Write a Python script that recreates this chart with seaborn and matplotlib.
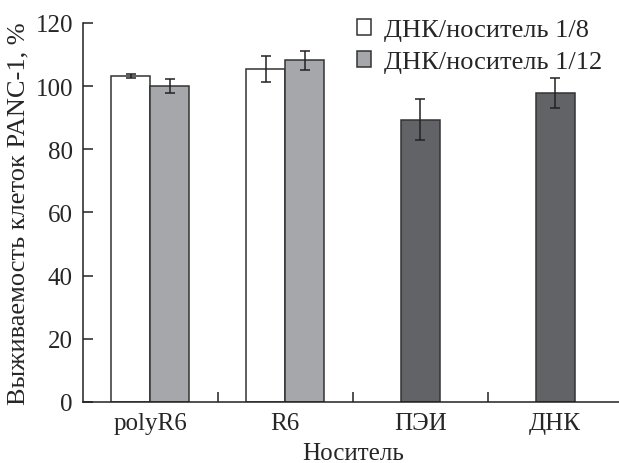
import numpy as np
import pandas as pd
import matplotlib.pyplot as plt
import seaborn as sns

# data
carriers = ['polyR6', 'R6', 'ПЭИ', 'ДНК']
ratios = ['ДНК/носитель 1/8', 'ДНК/носитель 1/12']
paired_carriers = ['polyR6', 'polyR6', 'R6', 'R6']
paired_ratios = ['ДНК/носитель 1/8', 'ДНК/носитель 1/12', 'ДНК/носитель 1/8', 'ДНК/носитель 1/12']
paired_values = [103.2, 100.0, 105.5, 108.2]
paired_err = [0.7, 2.2, 4.1, 3.0]
single_carriers = ['ПЭИ', 'ДНК']
single_values = [89.4, 97.8]
single_err = [6.5, 4.7]

sns.set_style('ticks')
plt.rcParams['font.family'] = ['Liberation Serif', 'DejaVu Serif']
fs = 18

paired = pd.DataFrame({'carrier': paired_carriers, 'ratio': paired_ratios,
                       'value': paired_values, 'err': paired_err})
single = pd.DataFrame({'carrier': single_carriers, 'value': single_values,
                       'err': single_err})

fig = plt.figure(figsize=(6.19, 4.64), dpi=100)
ax = fig.add_axes([0.1336, 0.1315, 0.8724, 0.8168])

edge = '#333333'
sns.barplot(data=paired, x='carrier', y='value', hue='ratio', order=carriers,
            hue_order=ratios, palette=['white', '#a6a7ab'], saturation=1,
            width=0.576, errorbar=None, edgecolor=edge, linewidth=1.1, ax=ax)
sns.barplot(data=single, x='carrier', y='value', order=carriers,
            color='#626367', saturation=1, width=0.288, errorbar=None,
            edgecolor=edge, linewidth=1.1, ax=ax)

# error bars at the bar centres (patch order: hue 1, hue 2, then single bars)
bars = [p for p in ax.patches if p.get_height() > 0]
xs = [p.get_x() + p.get_width() / 2 for p in bars]
ys = [p.get_height() for p in bars]
errs = (list(paired[paired.ratio == ratios[0]].err)
        + list(paired[paired.ratio == ratios[1]].err) + single_err)
ax.errorbar(xs, ys, yerr=errs, fmt='none', ecolor='#222222', elinewidth=1.1,
            capsize=3.6, capthick=1.1)

ax.set_ylim(0, 120)
ax.set_xlim(-0.5, 3.5)
ax.set_yticks(np.arange(0, 121, 20))
ax.set_xticks(np.arange(0.5, 3.6, 1))
ax.set_xticklabels([])
ax.set_xticks(range(len(carriers)), minor=True)
ax.set_xticklabels(carriers, minor=True, fontsize=fs)
ax.tick_params(axis='x', which='minor', length=0, pad=7)
ax.tick_params(axis='both', which='major', direction='in', length=7, width=1.1,
               color='#222222', labelsize=fs)
ax.tick_params(axis='y', pad=7)
for s in ['top', 'right']:
    ax.spines[s].set_visible(False)
for s in ['left', 'bottom']:
    ax.spines[s].set_linewidth(1.1)
    ax.spines[s].set_color('#222222')

ax.set_xlabel('Носитель', fontsize=fs, labelpad=6)
ax.set_ylabel('Выживаемость клеток PANC-1, %', fontsize=19, labelpad=4)

ax.legend(loc='upper left', bbox_to_anchor=(357 / 619, 1 - 20 / 464),
          bbox_transform=fig.transFigure, frameon=False,
          handlelength=0.53, handleheight=0.53, handletextpad=0.5,
          labelspacing=0.38, borderpad=0, borderaxespad=0, fontsize=19)

fig.savefig('out.png', dpi=100)
